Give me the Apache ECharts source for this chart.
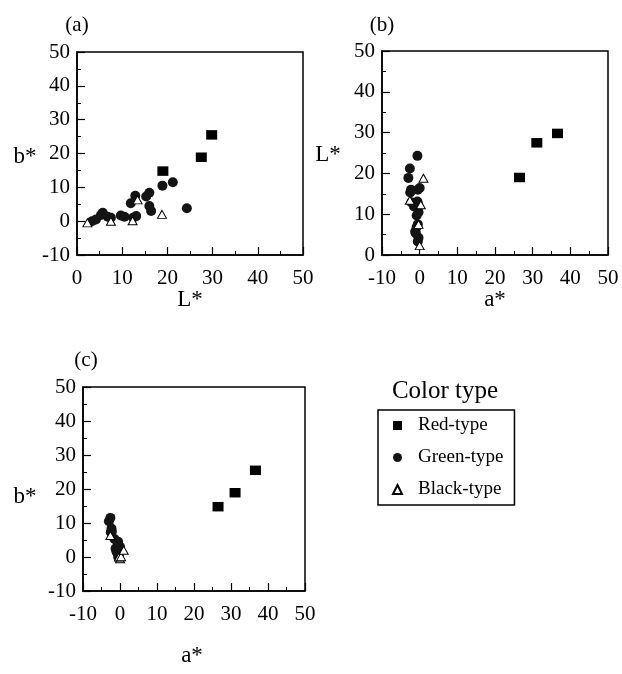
<!DOCTYPE html>
<html>
<head>
<meta charset="utf-8">
<script src="https://cdn.jsdelivr.net/npm/echarts@6/dist/echarts.min.js"></script>
<style>
  html, body { margin: 0; padding: 0; background: #fff; }
  #main { width: 622px; height: 674px; }
</style>
</head>
<body>
<div id="main"></div>
<script>
// colour measurements per colour type: L*, a*, b*
const redL = [19.0, 27.5, 29.8]
const redA = [26.5, 31.1, 36.6]
const redB = [14.8, 18.9, 25.5]

const greenL = [3.3, 4.2, 5.3, 5.7, 6.8, 7.5, 9.7, 10.5, 12.4, 13.1, 11.9, 12.9, 15.3, 16.0, 16.0, 16.4, 18.9, 21.2, 24.3]
const greenA = [-0.5, -0.3, -1.0, -1.2, -0.8, -0.5, -0.8, -0.3, -0.4, -0.6, -1.5, -2.2, -2.5, -2.3, -0.5, 0.0, -3.0, -2.6, -0.6]
const greenB = [0.0, 0.5, 1.8, 2.5, 1.3, 1.0, 1.7, 1.3, 1.0, 1.5, 5.3, 7.5, 7.3, 8.4, 4.5, 3.0, 10.5, 11.5, 3.8]

const blackL = [2.3, 7.5, 12.3, 13.4, 18.8]
const blackA = [0.0, -0.3, 0.3, -2.6, 1.0]
const blackB = [-0.5, 0.0, 0.1, 6.3, 2.0]

const typeNames = ['Red-type', 'Green-type', 'Black-type']

const font = 'Liberation Serif'

function pairs(xs, ys) {
  return xs.map((x, i) => [x, ys[i]])
}

// one frame box per panel
const grids = [
  { left: 77, top: 52, width: 226, height: 203 },
  { left: 382, top: 51, width: 226, height: 204 },
  { left: 83, top: 387, width: 222, height: 204 }
].map(g => Object.assign(g, { show: true, borderColor: '#000', borderWidth: 1.5, containLabel: false }))

function axis(gridIndex, min, max) {
  return {
    type: 'value',
    gridIndex: gridIndex,
    min: min,
    max: max,
    interval: 10,
    axisLine: { show: true, onZero: false, lineStyle: { color: '#000', width: 1.5 } },
    axisTick: { show: true, inside: true, length: 8, lineStyle: { color: '#000', width: 1.2 } },
    minorTick: { show: true, splitNumber: 2, length: 4, lineStyle: { color: '#000', width: 1 } },
    splitLine: { show: false },
    axisLabel: { color: '#000', fontFamily: font, fontSize: 21 }
  }
}

const xAxes = [axis(0, 0, 50), axis(1, -10, 50), axis(2, -10, 50)]
xAxes.forEach(a => { a.axisLabel.margin = 13 })
const yAxes = [axis(0, -10, 50), axis(1, 0, 50), axis(2, -10, 50)]
yAxes.forEach(a => { a.axisLabel.margin = 7 })

const styles = {
  'Red-type': { symbol: 'rect', symbolSize: [11, 9.5], itemStyle: { color: '#000', opacity: 1 } },
  'Green-type': { symbol: 'circle', symbolSize: 10, itemStyle: { color: '#141414', opacity: 1 } },
  'Black-type': { symbol: 'triangle', symbolSize: [9, 8], itemStyle: { color: '#fff', borderColor: '#000', borderWidth: 1, opacity: 1 } }
}

// panel data: (a) L*-b*, (b) a*-L*, (c) a*-b*
const panels = [
  { Green: pairs(greenL, greenB), Black: pairs(blackL, blackB), Red: pairs(redL, redB) },
  { Green: pairs(greenA, greenL), Black: pairs(blackA, blackL), Red: pairs(redA, redL) },
  { Green: pairs(greenA, greenB), Black: pairs(blackA, blackB), Red: pairs(redA, redB) }
]

const series = []
panels.forEach((p, i) => {
  ;['Red', 'Green', 'Black'].forEach(k => {
    const name = k + '-type'
    series.push(Object.assign({
      name: name,
      type: 'scatter',
      xAxisIndex: i,
      yAxisIndex: i,
      data: p[k],
      z: k === 'Red' ? 4 : (k === 'Black' ? 3 : 2),
      silent: true
    }, styles[name]))
  })
})

function label(text, x, y, size) {
  return {
    type: 'text',
    x: x,
    y: y,
    style: { text: text, font: size + 'px ' + font, fill: '#000', align: 'center', verticalAlign: 'middle' }
  }
}

const chart = echarts.init(document.getElementById('main'))
chart.setOption({
  animation: false,
  backgroundColor: '#fff',
  grid: grids,
  xAxis: xAxes,
  yAxis: yAxes,
  series: series,
  legend: {
    data: typeNames,
    orient: 'vertical',
    left: 378,
    top: 410,
    padding: [6, 11, 6, 14],
    itemWidth: 9,
    itemHeight: 9,
    itemGap: 13,
    borderColor: '#000',
    borderWidth: 1.5,
    selectedMode: false,
    textStyle: { fontFamily: font, fontSize: 19, color: '#000', padding: [0, 0, 0, 11], lineHeight: 19 }
  },
  graphic: [
    label('(a)', 77, 25, 21),
    label('b*', 25, 157, 23),
    label('L*', 190, 300, 23),
    label('(b)', 382, 25, 21),
    label('L*', 328, 155, 23),
    label('a*', 495, 300, 23),
    label('(c)', 86, 360, 21),
    label('b*', 25, 497, 23),
    label('a*', 192, 656, 23),
    label('Color type', 445, 391, 25)
  ]
})
</script>
</body>
</html>
